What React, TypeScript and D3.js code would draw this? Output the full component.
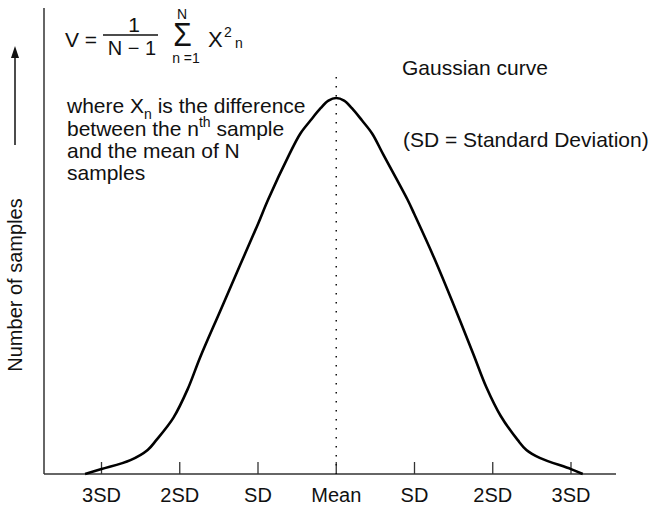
import React from "react";
import * as d3 from "d3";

// ---- data ----
const tickPositions = [-3, -2, -1, 0, 1, 2, 3];
const tickLabels = ["3SD", "2SD", "SD", "Mean", "SD", "2SD", "3SD"];
// curve: position in SD units, relative number of samples (peak = 100)
const curveZ = [-3.21, -3.0, -2.63, -2.41, -2.3, -2.08, -1.9, -1.74, -1.48, -1.23, -1.0, -0.87, -0.6, -0.46, -0.33, -0.2, -0.1, 0, 0.1, 0.2, 0.33, 0.46, 0.6, 0.91, 1.0, 1.25, 1.5, 1.75, 1.92, 2.1, 2.32, 2.43, 2.6, 3.0, 3.15];
const curveH = [0, 1.3, 3.7, 6.4, 9, 15, 22.5, 31, 43.5, 55.5, 66.5, 73, 85, 90.5, 94, 97.3, 99.3, 100, 99.3, 97.3, 94, 90.5, 85, 73, 69, 57.5, 45, 32, 23, 15.5, 9, 6.4, 4.3, 1.3, 0];

const W = 654, H = 505;
const FONT = "'Liberation Sans', Arial, Helvetica, sans-serif";

export default function App() {
  const x = d3.scaleLinear().domain([-3, 3]).range([101.5, 571]);
  const y = d3.scaleLinear().domain([0, 100]).range([474, 98]);
  const pts: [number, number][] = curveZ.map((z, i) => [z, curveH[i]]);
  const line = d3
    .line<[number, number]>()
    .x((d) => x(d[0]))
    .y((d) => y(d[1]))
    .curve(d3.curveCatmullRom.alpha(0.5));
  const axisY = y(0);
  const axisColor = "#333";
  return (
    <svg
      width={W}
      height={H}
      style={{ position: "absolute", left: 0, top: 0, background: "#fff" }}
      fontFamily={FONT}
    >
      {/* axes */}
      <line x1={44} y1={8} x2={44} y2={axisY} stroke={axisColor} strokeWidth={1.5} />
      <line x1={44} y1={axisY} x2={616} y2={axisY} stroke={axisColor} strokeWidth={1.5} />
      {tickPositions.map((t, i) => (
        <g key={i}>
          <line x1={x(t)} x2={x(t)} y1={axisY} y2={axisY - 12} stroke={axisColor} strokeWidth={1.3} />
          <text x={x(t)} y={502} fontSize={20} textAnchor="middle" fill="#111">
            {tickLabels[i]}
          </text>
        </g>
      ))}
      {/* mean dotted line */}
      <line
        x1={x(0)}
        x2={x(0)}
        y1={77}
        y2={axisY}
        stroke="#111"
        strokeWidth={1.5}
        strokeDasharray="1.5,7.5"
      />
      {/* curve */}
      <path d={line(pts) || ""} fill="none" stroke="#000" strokeWidth={2.6} strokeLinejoin="round" />

      {/* y label + arrow */}
      <text transform="translate(22,285) rotate(-90)" fontSize={20} textAnchor="middle" fill="#111">
        Number of samples
      </text>
      <line x1={15} y1={145} x2={15} y2={56} stroke="#111" strokeWidth={1.5} />
      <path d="M15,46 L11,58 L19,58 Z" fill="#111" />

      {/* formula */}
      <g fill="#111">
        <text x={65} y={47} fontSize={21}>V =</text>
        <text x={134} y={32} fontSize={21} textAnchor="middle">1</text>
        <line x1={103} x2={158} y1={35} y2={35} stroke="#111" strokeWidth={1.3} />
        <text x={132} y={55} fontSize={20} textAnchor="middle">N − 1</text>
        <text x={182.5} y={46} fontSize={30} textAnchor="middle" transform="translate(182.5,46) scale(1,1.1) translate(-182.5,-46)">Σ</text>
        <text x={182} y={19} fontSize={14} textAnchor="middle">N</text>
        <text x={186} y={63} fontSize={14} textAnchor="middle">n =1</text>
        <text x={208} y={47} fontSize={22}>X</text>
        <text x={224} y={37} fontSize={14}>2</text>
        <text x={235} y={48} fontSize={14}>n</text>
      </g>

      {/* explanation */}
      <g fill="#111" fontSize={21}>
        <text x={67} y={113}>
          where X<tspan fontSize={14} dy={6}>n</tspan>
          <tspan dy={-6}> is the difference</tspan>
        </text>
        <text x={67} y={136}>
          between the n<tspan fontSize={14} dy={-9}>th</tspan>
          <tspan dy={9}> sample</tspan>
        </text>
        <text x={67} y={158}>and the mean of N</text>
        <text x={67} y={180}>samples</text>
      </g>

      <text x={402} y={75} fontSize={21} fill="#111">Gaussian curve</text>
      <text x={403} y={147} fontSize={21} fill="#111">(SD = Standard Deviation)</text>
    </svg>
  );
}
